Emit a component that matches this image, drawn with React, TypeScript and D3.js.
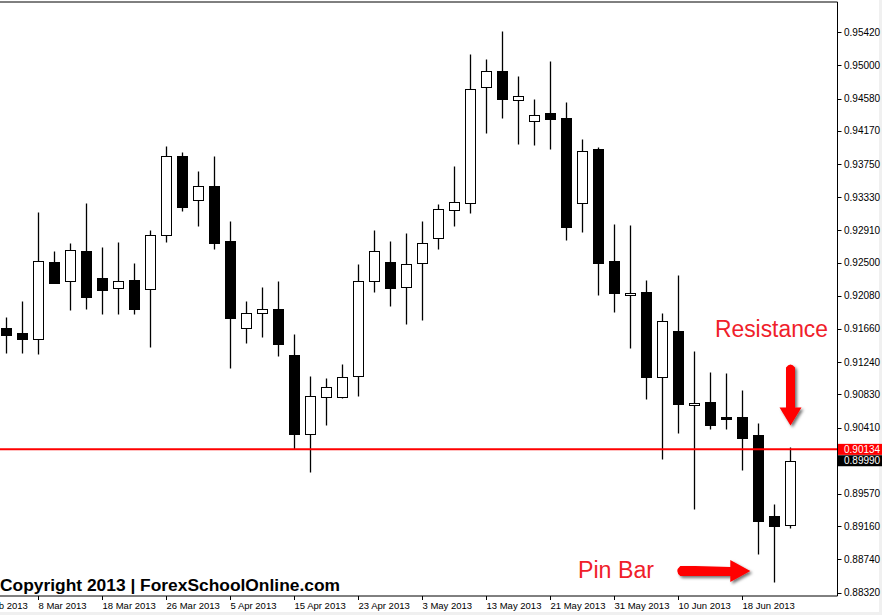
import React from "react";
import * as d3 from "d3";

const opens = [0.91669,0.91610,0.91530,0.92509,0.92264,0.92648,0.92306,0.92176,0.92281,0.92163,0.92847,0.93850,0.93290,0.93467,0.92774,0.91669,0.91859,0.91910,0.91331,0.90323,0.90804,0.90796,0.91062,0.92264,0.92505,0.92188,0.92492,0.92809,0.93163,0.93252,0.94733,0.94935,0.94568,0.94290,0.94391,0.94328,0.93252,0.93939,0.92521,0.92087,0.92129,0.91049,0.91635,0.90699,0.90737,0.90543,0.90547,0.90319,0.89293,0.89176];
const highs = [0.91812,0.92015,0.93142,0.92648,0.92749,0.93255,0.92699,0.92762,0.92496,0.92914,0.93977,0.93901,0.93661,0.93850,0.93028,0.92015,0.92192,0.92268,0.91597,0.91066,0.91040,0.91218,0.92483,0.92914,0.92774,0.92876,0.93028,0.93243,0.93724,0.95142,0.95078,0.95433,0.94863,0.94572,0.95053,0.94534,0.94066,0.93968,0.92990,0.92977,0.92281,0.91867,0.92344,0.91382,0.91116,0.91104,0.90888,0.90462,0.89445,0.90163];
const lows = [0.91361,0.91361,0.91348,0.92240,0.91905,0.91918,0.91854,0.91854,0.91854,0.91437,0.92766,0.93158,0.92968,0.92677,0.91171,0.91487,0.91563,0.91323,0.90142,0.89842,0.90449,0.90790,0.90816,0.92133,0.91955,0.91728,0.91778,0.92669,0.92968,0.93125,0.94145,0.94335,0.94006,0.93993,0.93943,0.92791,0.92892,0.92095,0.91880,0.91416,0.90771,0.90011,0.90340,0.89378,0.90391,0.90391,0.89867,0.88804,0.88449,0.89133];
const closes = [0.91588,0.91538,0.92521,0.92247,0.92661,0.92069,0.92158,0.92264,0.91918,0.92847,0.93850,0.93209,0.93467,0.92753,0.91804,0.91859,0.91910,0.91474,0.90323,0.90809,0.90923,0.91049,0.92264,0.92644,0.92176,0.92487,0.92745,0.93176,0.93264,0.94707,0.94935,0.94576,0.94619,0.94378,0.94315,0.92955,0.93910,0.92500,0.92120,0.92116,0.91049,0.91762,0.90707,0.90728,0.90437,0.90518,0.90272,0.89221,0.89158,0.89990];

const priceTicks = [0.95420,0.95000,0.94580,0.94170,0.93750,0.93330,0.92910,0.92500,0.92080,0.91660,0.91240,0.90830,0.90410,0.89990,0.89570,0.89160,0.88740,0.88320];
const dateTickIndex = [-2,2,6,10,14,18,22,26,30,34,38,42,46];
const dateTickLabels = ["28 Feb 2013","8 Mar 2013","18 Mar 2013","26 Mar 2013","5 Apr 2013","15 Apr 2013","23 Apr 2013","3 May 2013","13 May 2013","21 May 2013","31 May 2013","10 Jun 2013","18 Jun 2013"];
const resistanceLevel = 0.90134;
const lastPrice = 0.89990;

const W = 882, H = 615;
const plotRight = 837.5, plotTop = 2, plotBottom = 596;

export default function App() {
  const x = d3.scaleLinear().domain([0, 49]).range([6.3, 790.3]);
  const y = d3.scaleLinear().domain([0.8832, 0.9542]).range([592.5, 32.3]);
  const cx = (i: number) => Math.floor(x(i)) + 0.5;
  const ry = (v: number) => Math.round(y(v)) + 0.5;
  const axisFont = "'Liberation Sans', Arial, sans-serif";
  const red = "#f0202a";

  const resX = cx(49);
  const resTip = y(0.9040) - 3;
  const pinTipX = x(48) - 24;
  const pinY = y(0.8858) - 1;

  const downArrow = `M${resX - 4.5},${resTip - 58} Q${resX},${resTip - 64} ${resX + 4.5},${resTip - 58} L${resX + 4.5},${resTip - 18} L${resX + 11},${resTip - 18} L${resX},${resTip} L${resX - 11},${resTip - 18} L${resX - 4.5},${resTip - 18} Z`;
  const rightArrow = `M${pinTipX - 55},${pinY - 5} L${pinTipX - 20},${pinY - 4} L${pinTipX - 20},${pinY - 11} L${pinTipX},${pinY} L${pinTipX - 20},${pinY + 11} L${pinTipX - 20},${pinY + 5} L${pinTipX - 70},${pinY + 5} Q${pinTipX - 76},${pinY} ${pinTipX - 70},${pinY - 5} Z`;

  return (
    <svg width={W} height={H} style={{ position: "absolute", left: 0, top: 0, background: "#fff" }}>
      <defs>
        <clipPath id="plot">
          <rect x={0} y={plotTop} width={plotRight} height={plotBottom - plotTop} />
        </clipPath>
        <filter id="shadow" x="-30%" y="-30%" width="160%" height="160%">
          <feDropShadow dx="2" dy="2" stdDeviation="1.6" floodColor="#000" floodOpacity="0.55" />
        </filter>
      </defs>
      <rect x={0} y={0} width={W} height={H} fill="#fff" />
      <rect x={879} y={0} width={3} height={H} fill="#f0f0f0" />
      <rect x={0} y={612} width={W} height={3} fill="#f0f0f0" />

      <g clipPath="url(#plot)">
        {opens.map((o, i) => {
          const c = closes[i];
          const bull = c >= o;
          const top = ry(Math.max(o, c));
          const bot = ry(Math.min(o, c));
          const xc = cx(i);
          return (
            <g key={i}>
              <line x1={xc} x2={xc} y1={ry(highs[i])} y2={ry(lows[i])} stroke="#000" strokeWidth={1.3} />
              <rect x={xc - 5} y={top} width={10} height={Math.max(bot - top, 1)} fill={bull ? "#fff" : "#000"} stroke="#000" strokeWidth={1} />
            </g>
          );
        })}
        <line x1={0} x2={plotRight} y1={y(resistanceLevel)} y2={y(resistanceLevel)} stroke="#ff0000" strokeWidth={2} />
      </g>

      <line x1={0} x2={plotRight} y1={plotTop} y2={plotTop} stroke="#000" strokeWidth={1} />
      <line x1={plotRight} x2={plotRight} y1={plotTop} y2={plotBottom} stroke="#000" strokeWidth={1} />
      <line x1={0} x2={plotRight} y1={plotBottom} y2={plotBottom} stroke="#000" strokeWidth={1} />

      {priceTicks.map((p, i) => (
        <g key={i}>
          <line x1={plotRight} x2={plotRight + 4} y1={ry(p)} y2={ry(p)} stroke="#000" strokeWidth={1} />
          <text x={844} y={y(p) + 3.5} fontSize={10} fontFamily={axisFont} fill="#000">{p.toFixed(5)}</text>
        </g>
      ))}

      <rect x={838} y={y(resistanceLevel) - 5.5} width={44} height={11} fill="#ff0000" />
      <text x={844} y={y(resistanceLevel) + 3.5} fontSize={10} fontFamily={axisFont} fill="#fff">{resistanceLevel.toFixed(5)}</text>
      <rect x={838} y={y(lastPrice) - 5.5} width={44} height={11} fill="#000" />
      <text x={844} y={y(lastPrice) + 3.5} fontSize={10} fontFamily={axisFont} fill="#fff">{lastPrice.toFixed(5)}</text>

      {dateTickIndex.map((idx, i) => (
        <g key={i}>
          <line x1={cx(idx)} x2={cx(idx)} y1={plotBottom} y2={plotBottom + 4} stroke="#000" strokeWidth={1} />
          <text x={cx(idx)} y={609} fontSize={9.5} fontFamily={axisFont} fill="#000">{dateTickLabels[i]}</text>
        </g>
      ))}

      <text x={0} y={591} fontSize={16} fontWeight="bold" fontFamily={axisFont} fill="#000" textLength={340} lengthAdjust="spacingAndGlyphs">Copyright 2013 | ForexSchoolOnline.com</text>

      <text x={715} y={337} fontSize={23.5} fontFamily={axisFont} fill={red} textLength={113} lengthAdjust="spacingAndGlyphs">Resistance</text>
      <text x={578} y={578} fontSize={23.5} fontFamily={axisFont} fill={red} textLength={76} lengthAdjust="spacingAndGlyphs">Pin Bar</text>

      <path d={downArrow} fill="#ff0000" filter="url(#shadow)" />
      <path d={rightArrow} fill="#ff0000" filter="url(#shadow)" />
    </svg>
  );
}
